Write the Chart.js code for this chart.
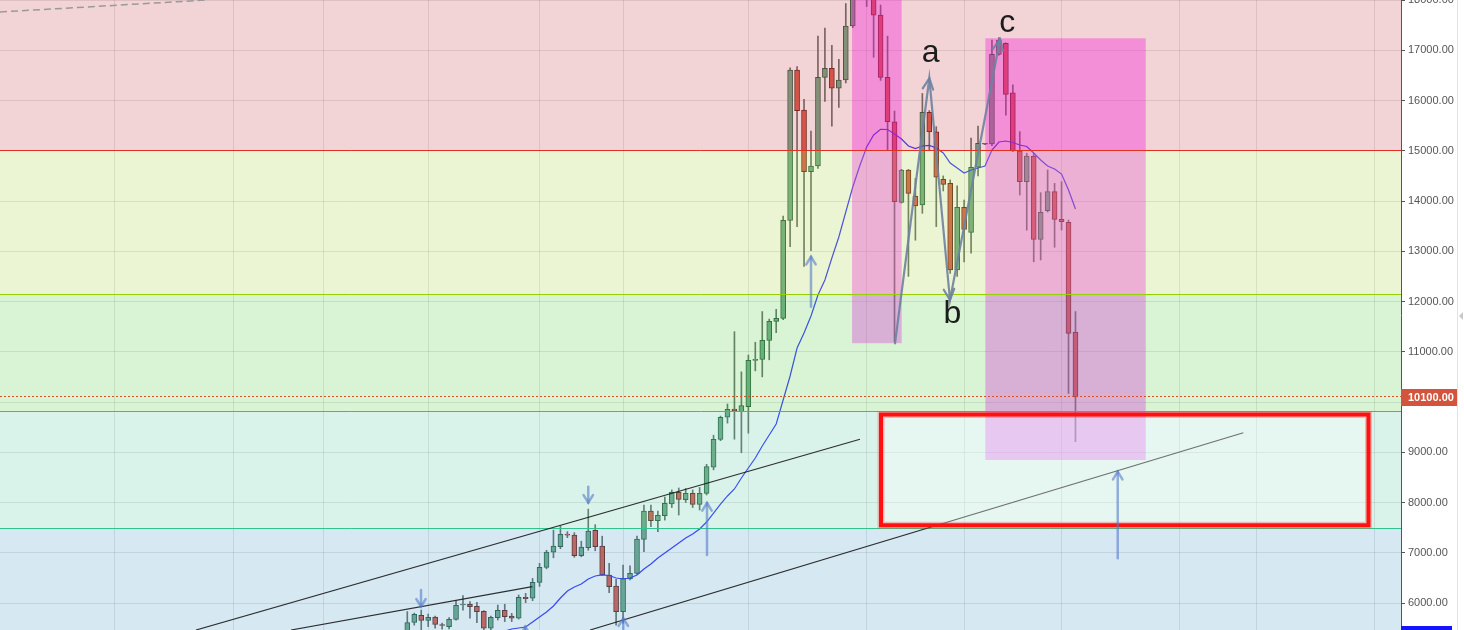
<!DOCTYPE html>
<html>
<head>
<meta charset="utf-8">
<script src="https://cdn.jsdelivr.net/npm/chart.js@4.4.1/dist/chart.umd.min.js"></script>
<style>
  html, body { margin: 0; padding: 0; background: #fff; }
  #wrap { width: 1464px; height: 630px; }
</style>
</head>
<body>
<div id="wrap"><canvas id="chart" width="1464" height="630"></canvas></div>
<script>
// daily candles, index 0 = first visible candle
const opens = [5420,5616,5756,5656,5722,5560,5530,5676,5960,5975,
  5935,5835,5497,5708,5855,5742,5696,6114,6094,6412,
  6710,7010,7121,7370,7353,6942,7101,7447,7135,6558,
  6339,5828,6478,6591,7268,7831,7639,7738,7970,8203,
  8057,8183,7964,8183,8701,9258,9696,9860,9810,9907,
  10830,10850,11228,11606,11665,13616,16607,15811,14583,14697,
  16461,16640,16243,16408,17483,18900,19100,18900,17700,16461,
  15578,13974,14617,14100,13921,15765,15379,14432,14352,12627,
  13875,13377,14671,15140,15134,16919,17138,16155,14995,14384,
  14896,13238,13807,14186,13636,13576,11390];
const highs = [5830,5800,5860,5780,5742,5600,5710,6046,6150,6030,
  6014,5850,5740,5960,5975,5795,6160,6193,6490,6790,
  7050,7450,7530,7420,7400,7230,7870,7560,7330,6790,
  6470,6757,6740,7330,7950,7950,7830,8110,8250,8290,
  8280,8250,8300,8760,9340,9720,9960,11400,10600,10935,
  11190,11800,11650,11845,13700,16650,16673,16024,15390,17280,
  17440,17100,16820,17930,19300,19800,19500,19000,17900,17280,
  15790,14630,14630,14450,16140,15800,15480,14500,14420,14300,
  14020,15250,15490,15150,17200,17250,17150,16310,15380,14950,
  14950,14166,14617,14350,14384,13620,11800];
const lows = [5380,5560,5470,5530,5500,5480,5485,5660,5860,5700,
  5610,5460,5470,5662,5630,5630,5680,6006,6046,6330,
  6680,6900,7080,7300,6910,6920,7050,7040,6550,6205,
  5560,5600,6460,6570,7020,7520,7420,7650,7900,7750,
  8000,7900,7850,8150,8650,9230,9580,9260,8990,9380,
  10620,10500,10840,11380,11640,13090,13490,12700,13010,14650,
  15980,15490,15860,16350,17450,18600,17870,16860,16400,15015,
  11200,13960,12500,13220,13755,15000,13490,14200,12560,12500,
  12790,12960,14500,15120,15100,16900,15710,14980,14120,13420,
  12790,12826,13780,13080,13423,10170,9210];
const closes = [5610,5776,5656,5716,5576,5552,5676,5955,5975,5927,
  5828,5497,5716,5855,5728,5696,6114,6086,6412,6710,
  7015,7135,7367,7350,6942,7115,7433,7121,6558,6325,
  5828,6492,6591,7274,7831,7639,7745,7984,8203,8064,
  8183,7964,8183,8713,9258,9696,9855,9830,9927,10830,
  10850,11228,11606,11665,13616,16607,15797,14583,14697,16461,
  16640,16243,16408,17483,18900,19100,18900,17700,16461,15578,
  13986,14617,14153,13901,15765,15373,14472,14332,12627,13875,
  13437,14671,15148,15130,16919,17204,16123,14995,14384,14896,
  13238,13775,14186,13636,13588,11367,10100];
// moving average (starts at candle 14)
const maStart = 14;
const maValues = [5440,5483,5503,5523,5622,5722,5821,5941,6100,6239,
  6319,6378,6478,6538,6558,6548,6498,6478,6498,6558,
  6677,6776,6896,6995,7095,7194,7294,7373,7473,7612,
  7791,7970,8130,8269,8488,8687,8886,9125,9344,9562,
  10040,10518,11075,11373,11712,12130,12428,12866,13284,13781,
  14279,14697,15075,15314,15427,15423,15334,15234,15095,15045,
  15095,15105,15055,14955,14756,14657,14557,14617,14657,14697,
  15015,15174,15194,15164,15115,15085,14955,14816,14697,14637,
  14537,14219,13841];

const priceTicks = [6000,7000,8000,9000,10000,11000,12000,13000,14000,15000,16000,17000,18000];
const timeGrid = [-42,-25,-12,3,19,31,49,66,80,94,111,122,139];
const fibLevels = [15000, 12145, 9815, 7489];
const lastPrice = 10100;

// drawings, in [candle index, price]
const pinkBoxes = [[63.9, 18500, 71.03, 11170], [83.05, 17238, 106.09, 8846]];
const targetBox = [68.06, 9751, 138.1, 7547];
const trendLines = [[-30.36, 5463, 65.04, 9258], [-16.71, 5463, 17.96, 6325], [26.25, 5463, 120.11, 9389]];
const dashedLine = [-58.52, 17761, -28.82, 18000];
const wavePoints = [[70.07, 11168], [75.0, 16442], [77.97, 12030], [85.16, 17218]];
const waveLabels = [['a', 75.2, 16772], ['b', 78.3, 11578], ['c', 86.2, 17369]];
const markers = [ // [index, tail price, head price]
  [1.97, 6259, 5927], [26.0, 8315, 7996], [16.95, 5165, 5529], [31.03, 5165, 5696],
  [43.06, 6955, 7990], [58.0, 11897, 12892], [102.07, 6890, 8613]];

const idx = opens.map((_, i) => i);
const upCol = '#6ba583', dnCol = '#d75442';

function head(ctx, x0, y0, x1, y1, len, spread) {
  const ang = Math.atan2(y1 - y0, x1 - x0);
  ctx.beginPath();
  ctx.moveTo(x1 - len * Math.cos(ang - spread), y1 - len * Math.sin(ang - spread));
  ctx.lineTo(x1, y1);
  ctx.lineTo(x1 - len * Math.cos(ang + spread), y1 - len * Math.sin(ang + spread));
  ctx.stroke();
}

// same rounding chart.js uses for 1px grid lines
const crisp = v => Math.round(v - 0.5) + 0.5;

const drawings = {
  id: 'drawings',
  beforeDraw(chart) {
    const ctx = chart.ctx;
    ctx.save();
    ctx.fillStyle = '#ffffff';
    ctx.fillRect(0, 0, chart.width, chart.height);
    ctx.restore();
  },
  afterDatasetsDraw(chart) {
    const { ctx, chartArea: a, scales } = chart;
    const X = v => scales.x.getPixelForValue(v);
    const Y = v => scales.y.getPixelForValue(v);
    ctx.save();
    ctx.beginPath();
    ctx.rect(a.left, a.top, a.right - a.left, a.bottom - a.top);
    ctx.clip();

    // magenta boxes (under the fib fill)
    ctx.fillStyle = 'rgba(255,0,255,0.36)';
    pinkBoxes.forEach(b => {
      ctx.fillRect(X(b[0]), Y(b[1]), X(b[2]) - X(b[0]), Y(b[3]) - Y(b[1]));
    });

    // fib zones
    const zoneCols = ['rgba(203,83,91,0.25)', 'rgba(175,215,83,0.25)', 'rgba(99,211,87,0.25)',
      'rgba(107,207,171,0.25)', 'rgba(91,167,207,0.25)'];
    const edges = [a.top].concat(fibLevels.map(Y), [a.bottom]);
    zoneCols.forEach((c, i) => {
      ctx.fillStyle = c;
      ctx.fillRect(a.left, edges[i], a.right - a.left, edges[i + 1] - edges[i]);
    });
    const lineCols = ['#e0301e', '#96d000', '#4cc236', '#2ec48c'];
    fibLevels.forEach((p, i) => {
      const yy = crisp(Y(p));
      ctx.strokeStyle = lineCols[i];
      ctx.lineWidth = 1;
      ctx.beginPath(); ctx.moveTo(a.left, yy); ctx.lineTo(a.right, yy); ctx.stroke();
    });

    // last price line
    const ly = crisp(Y(lastPrice));
    ctx.strokeStyle = '#d6522a';
    ctx.setLineDash([2, 2]);
    ctx.beginPath(); ctx.moveTo(a.left, ly); ctx.lineTo(a.right, ly); ctx.stroke();

    // dashed gray line top-left
    ctx.strokeStyle = '#9a9a9a';
    ctx.lineWidth = 1.5;
    ctx.setLineDash([7, 4]);
    ctx.beginPath();
    ctx.moveTo(X(dashedLine[0]), Y(dashedLine[1]));
    ctx.lineTo(X(dashedLine[2]), Y(dashedLine[3]));
    ctx.stroke();
    ctx.setLineDash([]);

    // trend lines
    ctx.strokeStyle = 'rgba(25,25,25,0.9)';
    ctx.lineWidth = 1.2;
    trendLines.forEach(l => {
      ctx.beginPath(); ctx.moveTo(X(l[0]), Y(l[1])); ctx.lineTo(X(l[2]), Y(l[3])); ctx.stroke();
    });

    // target box
    const bx = X(targetBox[0]), by = Y(targetBox[1]);
    const bw = X(targetBox[2]) - bx, bh = Y(targetBox[3]) - by;
    ctx.fillStyle = 'rgba(255,255,255,0.32)';
    ctx.fillRect(bx, by, bw, bh);
    ctx.strokeStyle = 'rgba(255,70,70,0.35)';
    ctx.lineWidth = 7;
    ctx.strokeRect(bx, by, bw, bh);
    ctx.strokeStyle = '#ff1111';
    ctx.lineWidth = 4;
    ctx.strokeRect(bx, by, bw, bh);

    // blue markers
    ctx.strokeStyle = 'rgba(85,125,200,0.6)';
    ctx.lineWidth = 2.5;
    ctx.lineCap = 'round';
    markers.forEach(m => {
      const x = X(m[0]), y0 = Y(m[1]), y1 = Y(m[2]);
      ctx.beginPath(); ctx.moveTo(x, y0); ctx.lineTo(x, y1); ctx.stroke();
      head(ctx, x, y0, x, y1, 9, 0.55);
    });

    // a-b-c wave
    ctx.strokeStyle = 'rgba(110,130,160,0.9)';
    ctx.lineWidth = 2.2;
    ctx.beginPath();
    wavePoints.forEach((p, i) => {
      if (i === 0) ctx.moveTo(X(p[0]), Y(p[1])); else ctx.lineTo(X(p[0]), Y(p[1]));
    });
    ctx.stroke();
    for (let i = 1; i < wavePoints.length; i++) {
      const p0 = wavePoints[i - 1], p1 = wavePoints[i];
      head(ctx, X(p0[0]), Y(p0[1]), X(p1[0]), Y(p1[1]), 12, 0.45);
    }
    ctx.fillStyle = '#1c1c1c';
    ctx.font = '32px "Liberation Sans", Arial, sans-serif';
    ctx.textAlign = 'center';
    ctx.textBaseline = 'alphabetic';
    waveLabels.forEach(l => ctx.fillText(l[0], X(l[1]), Y(l[2])));
    ctx.restore();

    // last price tag on the axis
    ctx.save();
    ctx.fillStyle = '#d4533c';
    ctx.fillRect(a.right, Math.round(Y(lastPrice)) - 8, 57, 17);
    ctx.fillStyle = '#ffffff';
    ctx.font = 'bold 11px "Liberation Sans", Arial, sans-serif';
    ctx.textBaseline = 'middle';
    ctx.fillText(lastPrice.toFixed(2), a.right + 7, Math.round(Y(lastPrice)) + 1);
    // right edge strip and bottom bar
    ctx.strokeStyle = '#e2e2e2';
    ctx.lineWidth = 1;
    ctx.beginPath(); ctx.moveTo(1457.5, 0); ctx.lineTo(1457.5, chart.height); ctx.stroke();
    ctx.fillStyle = '#c8c8c8';
    ctx.beginPath(); ctx.moveTo(1463, 312); ctx.lineTo(1459, 316); ctx.lineTo(1463, 320); ctx.fill();
    ctx.fillStyle = '#1414ff';
    ctx.fillRect(a.right, chart.height - 4, 51, 4);
    ctx.restore();
  }
};

const maData = maValues.map((v, k) => ({ x: maStart + k, y: v }));

new Chart(document.getElementById('chart'), {
  type: 'bar',
  data: {
    datasets: [
      {
        type: 'line',
        data: maData,
        borderColor: '#2b2bff',
        borderWidth: 1.2,
        pointRadius: 0,
        tension: 0,
        order: 1
      },
      {
        data: idx.map(i => ({ x: i, y: [opens[i], closes[i]] })),
        backgroundColor: idx.map(i => closes[i] >= opens[i] ? upCol : dnCol),
        borderColor: idx.map(i => closes[i] >= opens[i] ? '#225437' : '#5b1a13'),
        borderWidth: 1,
        borderSkipped: false,
        barThickness: 5,
        minBarLength: 1,
        grouped: false,
        order: 2
      },
      {
        data: idx.map(i => ({ x: i, y: [lows[i], highs[i]] })),
        backgroundColor: '#5f6a62',
        barThickness: 1,
        grouped: false,
        order: 3
      }
    ]
  },
  options: {
    responsive: false,
    animation: false,
    layout: { padding: 0 },
    plugins: { legend: { display: false }, tooltip: { enabled: false } },
    scales: {
      x: {
        type: 'linear',
        min: -58.52,
        max: 142.77,
        offset: false,
        afterBuildTicks: s => { s.ticks = timeGrid.map(v => ({ value: v })); },
        afterFit: s => { s.height = 0; s.paddingLeft = 0; s.paddingRight = 0; },
        ticks: { display: false },
        grid: { color: 'rgba(0,0,0,0.1)', drawTicks: false, offset: false },
        border: { display: false }
      },
      y: {
        position: 'right',
        min: 5463,
        max: 18000,
        beginAtZero: false,
        afterBuildTicks: s => { s.ticks = priceTicks.map(v => ({ value: v })); },
        afterFit: s => { s.width = 63; s.paddingTop = 0; s.paddingBottom = 0; },
        ticks: {
          callback: v => v.toFixed(2),
          color: '#555555',
          padding: 3,
          autoSkip: false,
          font: { family: '"Liberation Sans", Arial, sans-serif', size: 11 }
        },
        grid: { color: 'rgba(0,0,0,0.1)', tickColor: '#555555', tickLength: 4 },
        border: { display: true, color: '#555555' }
      }
    }
  },
  plugins: [drawings]
});
</script>
</body>
</html>
